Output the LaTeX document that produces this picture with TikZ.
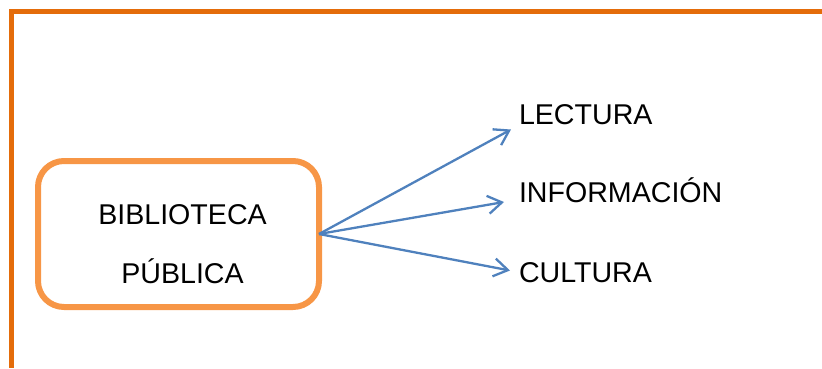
\documentclass[tikz,border=0pt]{standalone}
\usepackage{fontspec}
\setmainfont{Liberation Sans}
\usetikzlibrary{arrows.meta}
\definecolor{frameorange}{HTML}{E46C0A}
\definecolor{boxorange}{HTML}{F79646}
\definecolor{arrowblue}{HTML}{4F81BD}
\tikzset{
  label text/.style={font=\fontsize{28.6}{34}\selectfont, inner sep=0pt, outer sep=0pt},
  mainbox/.style={draw=boxorange, line width=6pt, rounded corners=26pt, minimum width=281pt, minimum height=146pt, inner sep=0pt, outer sep=0pt},
  link/.style={draw=arrowblue, line width=2.3pt, -{Straight Barb[length=14pt,width=18pt,line width=2.3pt]}}
}
\begin{document}
\begin{tikzpicture}[x=1pt,y=-1pt]
\useasboundingbox (0,0) rectangle (822,368);
\fill[frameorange] (9,9) rectangle (822,14);
\fill[frameorange] (9,9) rectangle (13.5,368);
\node[mainbox] (box) at (178.5,234) {};
\node[label text, anchor=base] (t1) at (182.5,224) {BIBLIOTECA};
\node[label text, anchor=base] (t2) at (182.5,283) {PÚBLICA};
\node[label text, anchor=base west] (lec) at (519,124) {LECTURA};
\node[label text, anchor=base west] (inf) at (519,202) {INFORMACIÓN};
\node[label text, anchor=base west] (cul) at (519,282) {CULTURA};
\coordinate (e1) at (511,129.5);
\coordinate (e2) at (504,202);
\coordinate (e3) at (510,270.5);
\draw[link] (box.east) -- (e1);
\draw[link] (box.east) -- (e2);
\draw[link] (box.east) -- (e3);
\end{tikzpicture}
\end{document}
